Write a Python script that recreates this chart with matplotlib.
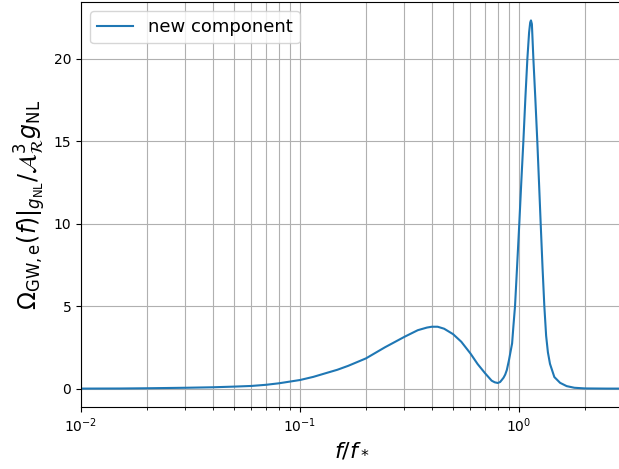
import numpy as np
import matplotlib
matplotlib.use("Agg")
import matplotlib.pyplot as plt

# values
f_ratio = [0.01, 0.015, 0.02, 0.03, 0.04, 0.05, 0.06, 0.07, 0.08, 0.1,
           0.115, 0.13, 0.148, 0.166, 0.2, 0.244, 0.3, 0.345, 0.38, 0.4,
           0.425, 0.455, 0.5, 0.545, 0.6, 0.647, 0.7, 0.75, 0.775, 0.8,
           0.82, 0.834, 0.85, 0.865, 0.88, 0.9, 0.93, 0.943, 0.959, 0.98,
           1.003, 1.025, 1.047, 1.07, 1.092, 1.112, 1.125, 1.134, 1.145, 1.163,
           1.187, 1.212, 1.234, 1.256, 1.28, 1.305, 1.33, 1.355, 1.385, 1.45,
           1.54, 1.65, 1.79, 2.0, 2.5, 3.0]
omega = [0.0, 0.005, 0.02, 0.05, 0.08, 0.12, 0.16, 0.23, 0.32, 0.52,
         0.71, 0.92, 1.14, 1.38, 1.83, 2.5, 3.14, 3.54, 3.7, 3.75,
         3.75, 3.63, 3.30, 2.84, 2.13, 1.49, 0.93, 0.48, 0.38, 0.34,
         0.40, 0.52, 0.66, 0.85, 1.13, 1.73, 2.74, 3.8, 5.0, 7.4,
         10.0, 12.6, 15.0, 17.7, 20.0, 21.6, 22.2, 22.32, 22.1, 20.0,
         17.6, 15.0, 12.5, 10.0, 7.4, 5.0, 3.2, 2.2, 1.5, 0.7,
         0.35, 0.15, 0.05, 0.01, 0.0, 0.0]

fig = plt.figure(figsize=(6.19, 4.69), dpi=100)
ax = fig.add_axes([81/619, 62/469, (623.5-81)/619, 405/469])

ax.plot(f_ratio, omega, color='tab:blue', label='new component')
ax.set_xscale('log')
ax.set_xlim(1e-2, 3)
ax.set_yticks([0, 5, 10, 15, 20])

ax.grid(which='both')
ax.legend(loc='upper left', fontsize=13)

ax.set_xlabel(r'$f/f_*$', fontsize=16)
ax.set_ylabel(r'$\Omega_{\rm GW,e}(f)|_{g_{\rm NL}}/\mathcal{A}_\mathcal{R}^3 g_{\rm NL}$', fontsize=17)

fig.savefig('out.png', dpi=100)
